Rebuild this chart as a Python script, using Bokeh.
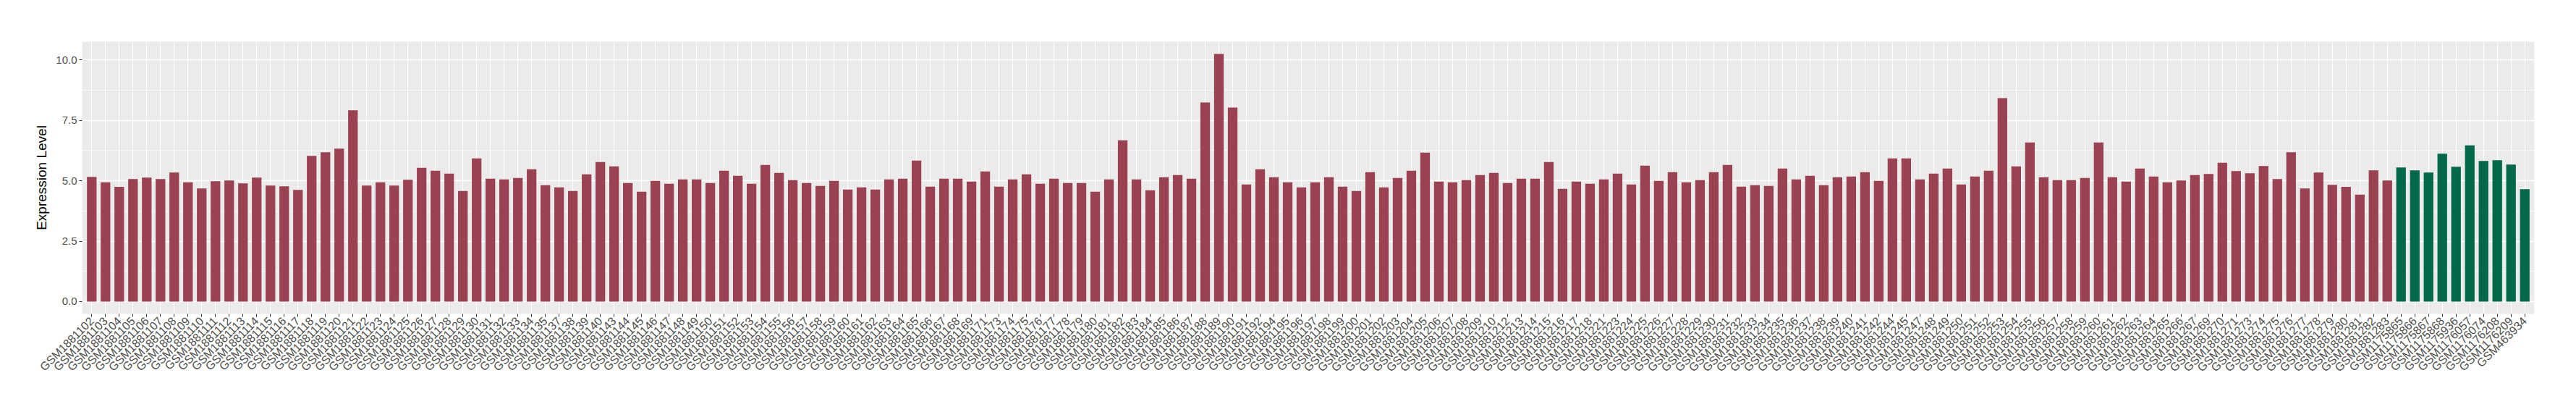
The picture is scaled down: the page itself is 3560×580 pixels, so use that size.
import math
from bokeh.plotting import figure
from bokeh.models import ColumnDataSource, FixedTicker, NumeralTickFormatter, Range1d, FactorRange
from bokeh.embed import file_html
from bokeh.resources import INLINE

# ---- data ----
red_samples = [
    "GSM1881102", "GSM1881103", "GSM1881104", "GSM1881105", "GSM1881106", "GSM1881107", "GSM1881108",
    "GSM1881109", "GSM1881110", "GSM1881111", "GSM1881112", "GSM1881113", "GSM1881114", "GSM1881115",
    "GSM1881116", "GSM1881117", "GSM1881118", "GSM1881119", "GSM1881120", "GSM1881121", "GSM1881122",
    "GSM1881123", "GSM1881124", "GSM1881125", "GSM1881126", "GSM1881127", "GSM1881128", "GSM1881129",
    "GSM1881130", "GSM1881131", "GSM1881132", "GSM1881133", "GSM1881134", "GSM1881135", "GSM1881137",
    "GSM1881138", "GSM1881139", "GSM1881140", "GSM1881143", "GSM1881144", "GSM1881145", "GSM1881146",
    "GSM1881147", "GSM1881148", "GSM1881149", "GSM1881150", "GSM1881151", "GSM1881152", "GSM1881153",
    "GSM1881154", "GSM1881155", "GSM1881156", "GSM1881157", "GSM1881158", "GSM1881159", "GSM1881160",
    "GSM1881161", "GSM1881162", "GSM1881163", "GSM1881164", "GSM1881165", "GSM1881166", "GSM1881167",
    "GSM1881168", "GSM1881169", "GSM1881171", "GSM1881173", "GSM1881174", "GSM1881175", "GSM1881176",
    "GSM1881177", "GSM1881178", "GSM1881179", "GSM1881180", "GSM1881181", "GSM1881182", "GSM1881183",
    "GSM1881184", "GSM1881185", "GSM1881186", "GSM1881187", "GSM1881188", "GSM1881189", "GSM1881190",
    "GSM1881191", "GSM1881192", "GSM1881194", "GSM1881195", "GSM1881196", "GSM1881197", "GSM1881198",
    "GSM1881199", "GSM1881200", "GSM1881201", "GSM1881202", "GSM1881203", "GSM1881204", "GSM1881205",
    "GSM1881206", "GSM1881207", "GSM1881208", "GSM1881209", "GSM1881210", "GSM1881212", "GSM1881213",
    "GSM1881214", "GSM1881215", "GSM1881216", "GSM1881217", "GSM1881218", "GSM1881221", "GSM1881223",
    "GSM1881224", "GSM1881225", "GSM1881226", "GSM1881227", "GSM1881228", "GSM1881229", "GSM1881230",
    "GSM1881231", "GSM1881232", "GSM1881233", "GSM1881234", "GSM1881235", "GSM1881236", "GSM1881237",
    "GSM1881238", "GSM1881239", "GSM1881240", "GSM1881241", "GSM1881242", "GSM1881244", "GSM1881245",
    "GSM1881247", "GSM1881248", "GSM1881249", "GSM1881250", "GSM1881251", "GSM1881252", "GSM1881253",
    "GSM1881254", "GSM1881255", "GSM1881256", "GSM1881257", "GSM1881258", "GSM1881259", "GSM1881260",
    "GSM1881261", "GSM1881262", "GSM1881263", "GSM1881264", "GSM1881265", "GSM1881266", "GSM1881267",
    "GSM1881269", "GSM1881270", "GSM1881271", "GSM1881273", "GSM1881274", "GSM1881275", "GSM1881276",
    "GSM1881277", "GSM1881278", "GSM1881279", "GSM1881280", "GSM1881281", "GSM1881282", "GSM1881283",
]
red_values = [
    5.16, 4.94, 4.75, 5.07, 5.13, 5.07, 5.34,
    4.94, 4.68, 4.98, 5.01, 4.89, 5.13, 4.80,
    4.77, 4.62, 6.03, 6.18, 6.33, 7.92, 4.80,
    4.94, 4.80, 5.04, 5.54, 5.42, 5.30, 4.58,
    5.93, 5.09, 5.06, 5.12, 5.48, 4.82, 4.73,
    4.58, 5.27, 5.78, 5.60, 4.91, 4.55, 5.00,
    4.88, 5.06, 5.06, 4.91, 5.42, 5.21, 4.88,
    5.66, 5.33, 5.03, 4.91, 4.79, 5.00, 4.64,
    4.73, 4.64, 5.06, 5.09, 5.84, 4.76, 5.09,
    5.09, 4.97, 5.39, 4.76, 5.06, 5.27, 4.88,
    5.09, 4.91, 4.91, 4.55, 5.06, 6.68, 5.06,
    4.61, 5.15, 5.24, 5.09, 8.24, 10.25, 8.03,
    4.85, 5.48, 5.15, 4.94, 4.73, 4.94, 5.15,
    4.76, 4.58, 5.36, 4.73, 5.12, 5.42, 6.17,
    4.97, 4.94, 5.03, 5.24, 5.33, 4.91, 5.09,
    5.09, 5.78, 4.67, 4.97, 4.88, 5.06, 5.30,
    4.85, 5.63, 5.00, 5.36, 4.94, 5.03, 5.36,
    5.66, 4.76, 4.82, 4.79, 5.51, 5.06, 5.21,
    4.82, 5.15, 5.18, 5.36, 5.00, 5.93, 5.93,
    5.06, 5.30, 5.51, 4.85, 5.18, 5.42, 8.42,
    5.60, 6.59, 5.15, 5.03, 5.03, 5.12, 6.59,
    5.15, 4.97, 5.51, 5.18, 4.94, 5.01, 5.24,
    5.28, 5.75, 5.40, 5.31, 5.61, 5.07, 6.18,
    4.68, 5.34, 4.83, 4.75, 4.43, 5.43, 5.01,
]
green_samples = [
    "GSM1175865", "GSM1175866", "GSM1175867", "GSM1175868", "GSM1175936",
    "GSM1176057", "GSM1176074", "GSM1176208", "GSM1176209", "GSM463934",
]
green_values = [5.55, 5.43, 5.34, 6.12, 5.58, 6.47, 5.82, 5.85, 5.67, 4.65]

y_ticks = [0.0, 2.5, 5.0, 7.5, 10.0]
y_minor = [1.25, 3.75, 6.25, 8.75]

RED = "#9B4252"
GREEN = "#03694A"

samples = red_samples + green_samples
values = red_values + green_values
colors = [RED] * len(red_samples) + [GREEN] * len(green_samples)

src = ColumnDataSource(dict(sample=samples, value=values, color=colors))

ymax = max(values)
pad = 0.05 * ymax

p = figure(
    x_range=FactorRange(factors=samples, range_padding=0.2, range_padding_units="absolute"),
    y_range=Range1d(-pad, ymax + pad),
    width=3552, height=572,
    output_backend="svg", toolbar_location=None,
    min_border_left=113, min_border_right=50, min_border_top=57, min_border_bottom=139,
)
p.background_fill_color = "#EBEBEB"
p.border_fill_color = "white"
p.outline_line_color = None

p.vbar(x="sample", top="value", bottom=0, width=0.7, color="color", line_color=None, source=src)

FONT = "Liberation Sans"

# grids
p.xgrid.grid_line_color = "white"
p.xgrid.grid_line_width = 1.1
p.ygrid.grid_line_color = "white"
p.ygrid.grid_line_width = 1.3
p.ygrid.minor_grid_line_color = "white"
p.ygrid.minor_grid_line_width = 0.6

# y axis
p.yaxis.ticker = FixedTicker(ticks=y_ticks, minor_ticks=y_minor)
p.yaxis.formatter = NumeralTickFormatter(format="0.0")
p.yaxis.axis_label = "Expression Level"
p.yaxis.axis_label_text_font = FONT
p.yaxis.axis_label_text_font_size = "19px"
p.yaxis.axis_label_text_font_style = "normal"
p.yaxis.axis_label_text_color = "black"
p.yaxis.axis_label_standoff = 6
p.yaxis.minor_tick_line_color = None

for ax in (p.xaxis, p.yaxis):
    ax.axis_line_color = None
    ax.major_tick_line_color = "#333333"
    ax.major_tick_line_width = 1
    ax.major_tick_out = 4
    ax.major_tick_in = 0
    ax.major_label_text_font = FONT
    ax.major_label_text_font_size = "15px"
    ax.major_label_text_color = "#4D4D4D"
    ax.major_label_standoff = 3

p.xaxis.major_label_orientation = math.pi / 4
p.xaxis.major_label_text_font_size = "16px"
p.xaxis.axis_label = None

open("out.html", "w").write(file_html(p, INLINE))
